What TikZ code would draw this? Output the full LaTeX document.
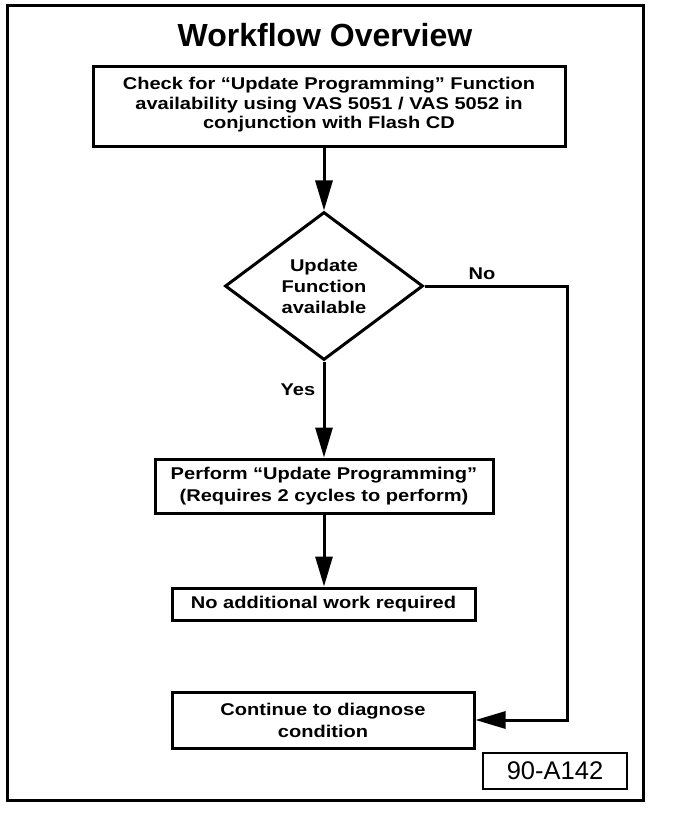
\documentclass[tikz,border=0pt]{standalone}
\usepackage{fontspec}
\setmainfont{Liberation Sans}
\newfontfamily\boxfont[FakeStretch=1.18]{Liberation Sans}
\usetikzlibrary{arrows.meta,shapes.geometric}
\begin{document}
\begin{tikzpicture}[x=1pt,y=-1pt,
  stepbox/.style={draw=black,line width=3pt,rectangle,inner sep=0pt,align=center,
    font=\boxfont\bfseries\fontsize{17}{19.5}\selectfont},
  decide/.style={draw=black,line width=3pt,diamond,inner sep=0pt,align=center,
    minimum width=198pt,minimum height=148pt,
    font=\boxfont\bfseries\fontsize{17}{21}\selectfont},
  lbl/.style={font=\boxfont\bfseries\fontsize{17}{20}\selectfont,inner sep=0pt},
  arr/.style={line width=3pt,-{Triangle[length=30pt,width=17pt]}},
  frame/.style={draw=black,line width=3pt,rectangle,inner sep=0pt}]
\useasboundingbox (0,0) rectangle (672,818);
\fill[white] (0,0) rectangle (672,818);
% outer frame
\node[frame,minimum width=636pt,minimum height=794pt] (frm) at (325,403) {};
% title
\node[font=\bfseries\fontsize{32}{36}\selectfont,inner sep=0pt] (title) at (325,35) {Workflow Overview};
% boxes
\node[stepbox,minimum width=472pt,minimum height=80pt] (b1) at (329,107)
  {Check for “Update Programming” Function\\availability using VAS 5051 / VAS 5052 in\\conjunction with Flash CD\\[-12pt]};
\node[decide] (dia) at (324,286) {Update\\Function\\available};
\node[stepbox,minimum width=338pt,minimum height=54pt,
  font=\boxfont\bfseries\fontsize{17}{22}\selectfont] (b2) at (324,486)
  {Perform “Update Programming”\\(Requires 2 cycles to perform)};
\node[stepbox,minimum width=303pt,minimum height=32pt] (b3) at (323.5,604)
  {No additional work required};
\node[stepbox,minimum width=302pt,minimum height=56pt,
  font=\boxfont\bfseries\fontsize{17}{22}\selectfont] (b4) at (323,720)
  {Continue to diagnose\\condition};
\node[draw=black,line width=2.6pt,rectangle,inner sep=0pt,minimum width=144pt,minimum height=36pt,
  font=\fontsize{25.5}{28}\selectfont] (tag) at (555,771) {90-A142};
% labels
\node[lbl] (no) at (482,274) {No};
\node[lbl] (yes) at (298,390) {Yes};
% connectors
\coordinate (turn) at (567,286);
\draw[arr] (dia.north |- b1.south) -- (dia.north);
\draw[arr] (dia.south) -- (b2.north);
\draw[arr] (b2.south) -- (b2.south |- b3.north);
\draw[arr] (dia.east) -- (turn) |- (b4.east);
\end{tikzpicture}
\end{document}
